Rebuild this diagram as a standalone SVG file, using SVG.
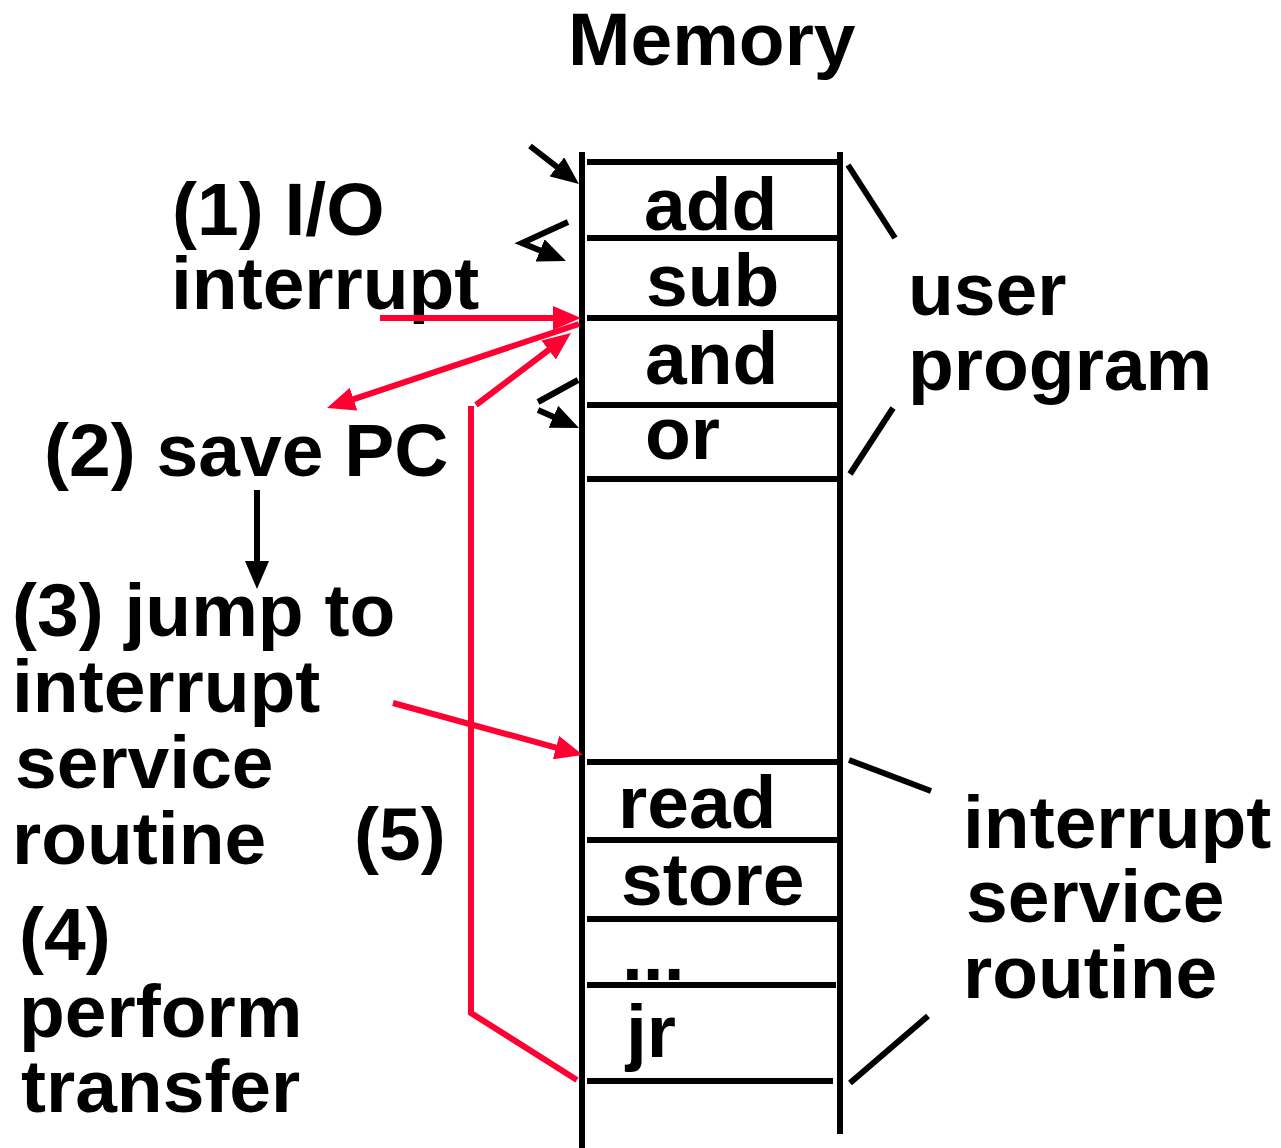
<svg xmlns="http://www.w3.org/2000/svg" width="1281" height="1148" viewBox="0 0 1281 1148">
<style>
text { font-family: "Liberation Sans", Arial, sans-serif; font-weight: bold; font-size: 75px; fill: #000; }
.mem { stroke: #000; stroke-width: 6; fill: none; }
.br { stroke: #000; stroke-width: 6; fill: none; }
.blk { stroke: #000; stroke-width: 6; fill: none; }
.red { stroke: #FF0033; stroke-width: 6; fill: none; }
</style>
<defs>
<marker id="ahB" viewBox="0 0 28 24" refX="14" refY="12" markerWidth="28" markerHeight="24" markerUnits="userSpaceOnUse" orient="auto">
<path d="M0,0 L28,12 L0,24 z" fill="#000"/>
</marker>
<marker id="ahR" viewBox="0 0 28 24" refX="14" refY="12" markerWidth="28" markerHeight="24" markerUnits="userSpaceOnUse" orient="auto">
<path d="M0,0 L28,12 L0,24 z" fill="#FF0033"/>
</marker>
</defs>
<rect width="1281" height="1148" fill="#fff"/>

<g id="title"><text x="568" y="65">Memory</text></g>

<g id="memory">
<line class="mem" x1="582" y1="152" x2="582" y2="1148"/>
<line class="mem" x1="840" y1="152" x2="840" y2="1134"/>
<line class="mem" x1="587" y1="162" x2="838" y2="162"/>
<line class="mem" x1="587" y1="238" x2="838" y2="238"/>
<line class="mem" x1="587" y1="318" x2="838" y2="318"/>
<line class="mem" x1="587" y1="405" x2="838" y2="405"/>
<line class="mem" x1="587" y1="479" x2="838" y2="479"/>
<line class="mem" x1="587" y1="762" x2="838" y2="762"/>
<line class="mem" x1="587" y1="840" x2="838" y2="840"/>
<line class="mem" x1="587" y1="919" x2="838" y2="919"/>
<line class="mem" x1="587" y1="985" x2="836" y2="985"/>
<line class="mem" x1="587" y1="1081" x2="833" y2="1081"/>
</g>

<g id="cell-add"><text x="644" y="230">add</text></g>
<g id="cell-sub"><text x="646" y="306">sub</text></g>
<g id="cell-and"><text x="645" y="384">and</text></g>
<g id="cell-or"><text x="645" y="459">or</text></g>
<g id="cell-read"><text x="618" y="828">read</text></g>
<g id="cell-store"><text x="621" y="905">store</text></g>
<g id="cell-dots"><text x="622" y="980">...</text></g>
<g id="cell-jr"><text x="626" y="1057">jr</text></g>

<g id="label-user-program">
<line class="br" x1="848" y1="165" x2="895" y2="238"/>
<line class="br" x1="893" y1="408" x2="850" y2="474"/>
<text x="908" y="315">user</text>
<text x="908" y="390">program</text>
</g>

<g id="label-isr">
<line class="br" x1="849" y1="760" x2="931" y2="791"/>
<line class="br" x1="928" y1="1016" x2="850" y2="1083"/>
<text x="963" y="848">interrupt</text>
<text x="966" y="922">service</text>
<text x="963" y="998">routine</text>
</g>

<g id="step1">
<text x="172" y="235">(1) I/O</text>
<text x="171" y="309">interrupt</text>
</g>
<g id="step2"><text x="44" y="476">(2) save PC</text></g>
<g id="step3">
<text x="12" y="636">(3) jump to</text>
<text x="12" y="712">interrupt</text>
<text x="15" y="788">service</text>
<text x="12" y="864">routine</text>
</g>
<g id="step4">
<text x="19" y="960">(4)</text>
<text x="19" y="1037">perform</text>
<text x="21" y="1112">transfer</text>
</g>
<g id="step5"><text x="354" y="860">(5)</text></g>

<g id="connectors">
<line class="blk" x1="530" y1="146" x2="567.9" y2="175.4" marker-end="url(#ahB)"/>
<polyline class="blk" points="568,222 522,243 553,255.7" marker-end="url(#ahB)"/>
<line class="blk" x1="578" y1="380" x2="538" y2="402"/>
<line class="blk" x1="538" y1="410" x2="566.2" y2="422.4" marker-end="url(#ahB)"/>
<line class="blk" x1="257" y1="490" x2="257" y2="575" marker-end="url(#ahB)"/>
<line class="red" x1="380" y1="318" x2="567" y2="318" marker-end="url(#ahR)"/>
<line class="red" x1="579" y1="324" x2="340.3" y2="403.6" marker-end="url(#ahR)"/>
<line class="red" x1="476" y1="405" x2="559.8" y2="341.5" marker-end="url(#ahR)"/>
<polyline class="red" points="577,1080 471,1013 471,406"/>
<line class="red" x1="393" y1="703" x2="569.5" y2="751.3" marker-end="url(#ahR)"/>
</g>
</svg>
